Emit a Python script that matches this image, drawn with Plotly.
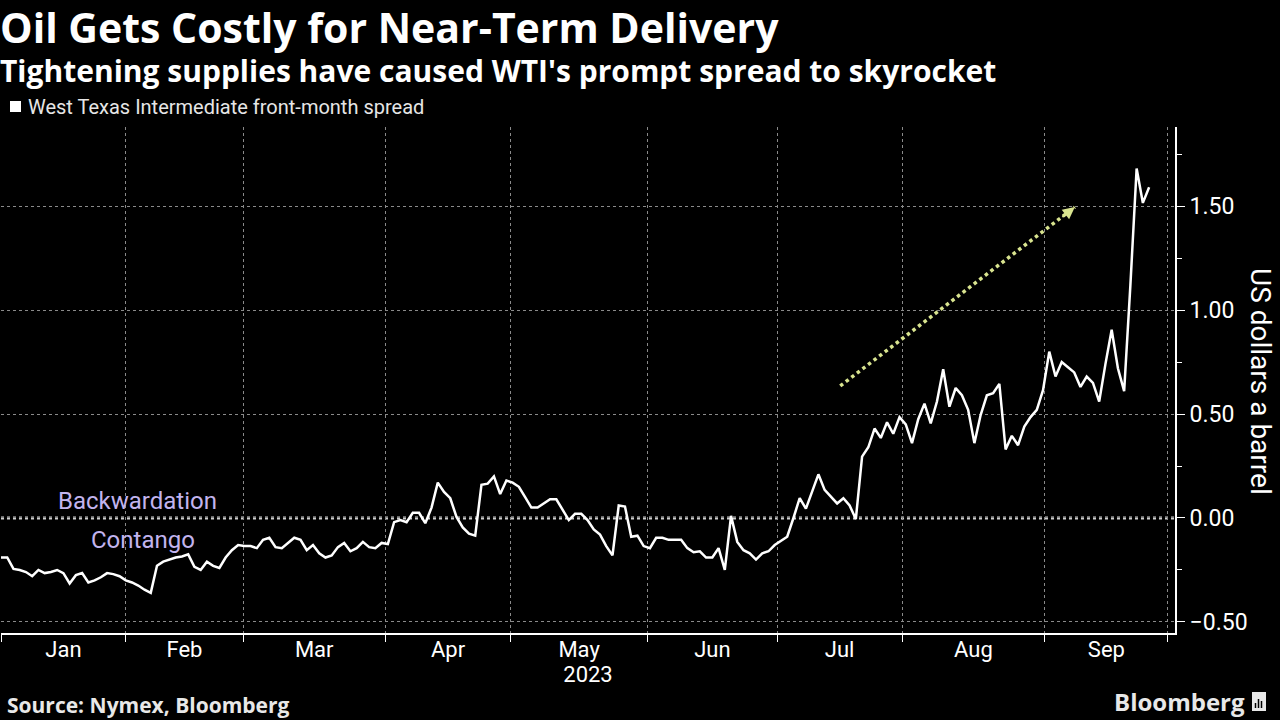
import plotly.graph_objects as go

# WTI front-month spread (US$/bbl), one value per trading day, Jan 3 2023 onward
spread = [
    -0.19, -0.19, -0.245, -0.25, -0.26, -0.28, -0.25, -0.265, -0.26, -0.25,
    -0.265, -0.315, -0.275, -0.265, -0.31, -0.30, -0.285, -0.265, -0.27, -0.28,
    -0.30, -0.31, -0.325, -0.345, -0.36, -0.23, -0.21, -0.20, -0.19, -0.185,
    -0.175, -0.235, -0.25, -0.21, -0.23, -0.24, -0.19, -0.155, -0.13, -0.135,
    -0.135, -0.145, -0.105, -0.095, -0.14, -0.145, -0.12, -0.095, -0.105, -0.155,
    -0.13, -0.17, -0.19, -0.18, -0.14, -0.12, -0.16, -0.145, -0.115, -0.14,
    -0.145, -0.12, -0.125, -0.02, -0.01, -0.02, 0.025, 0.025, -0.025, 0.05,
    0.17, 0.125, 0.095, 0.005, -0.045, -0.075, -0.085, 0.16, 0.165, 0.20,
    0.115, 0.18, 0.17, 0.15, 0.10, 0.05, 0.05, 0.07, 0.09, 0.09,
    0.04, -0.01, 0.02, 0.02, -0.01, -0.055, -0.08, -0.135, -0.18, 0.06,
    0.055, -0.09, -0.085, -0.135, -0.145, -0.095, -0.095, -0.105, -0.105, -0.105,
    -0.145, -0.165, -0.16, -0.19, -0.19, -0.145, -0.25, 0.01, -0.115, -0.155,
    -0.17, -0.20, -0.17, -0.16, -0.13, -0.11, -0.09, 0.0, 0.095, 0.045,
    0.13, 0.21, 0.135, 0.10, 0.07, 0.095, 0.06, -0.005, 0.295, 0.34,
    0.43, 0.385, 0.46, 0.405, 0.485, 0.45, 0.36, 0.475, 0.55, 0.455,
    0.56, 0.715, 0.535, 0.625, 0.59, 0.52, 0.36, 0.495, 0.59, 0.60,
    0.645, 0.33, 0.395, 0.35, 0.44, 0.485, 0.52, 0.615, 0.80, 0.68,
    0.75, 0.725, 0.70, 0.63, 0.68, 0.65, 0.56, 0.74, 0.905, 0.72,
    0.61, 1.12, 1.68, 1.515, 1.59,
]
days = list(range(len(spread)))

# month boundaries (trading-day index) and labels
month_bounds = [0, 20, 38.8, 61.6, 81.7, 103.6, 124.4, 144.4, 167.3, 187]
month_labels = ["Jan", "Feb", "Mar", "Apr", "May", "Jun", "Jul", "Aug", "Sep"]
month_mid = [(a + b) / 2 for a, b in zip(month_bounds[:-1], month_bounds[1:])]
year_label = "2023"

y_ticks = [-0.5, 0.0, 0.5, 1.0, 1.5]

# trend arrow endpoints (index, value)
arrow_start = (134.5, 0.635)
arrow_end = (172.1, 1.495)

FONT = "Roboto"
NARROW = "Liberation Sans Narrow, Roboto"
TITLE_FONT = "Open Sans"
ARROW_COL = "#d9e48f"
GRID_COL = "#8a8a8a"
LAV = "#c2b4ee"

W, H = 1280, 720
ML, MR, MT, MB = 1, 105, 127, 87
PW, PH = W - ML - MR, H - MT - MB


def px(x):  # page pixel -> paper x
    return (x - ML) / PW


def py(y):  # page pixel -> paper y
    return (H - MB - y) / PH


fig = go.Figure()

fig.add_trace(go.Scatter(
    x=days, y=spread, mode="lines",
    line=dict(color="white", width=2.5),
    showlegend=False, hoverinfo="skip",
))

# zero line (Backwardation / Contango divider)
fig.add_shape(type="line", xref="paper", yref="y", x0=0, x1=1, y0=0, y1=0,
              line=dict(color="#cfcfcf", width=3, dash="dot"), layer="below")

# dotted trend arrow
fig.add_shape(type="line", xref="x", yref="y",
              x0=arrow_start[0], y0=arrow_start[1], x1=arrow_end[0], y1=arrow_end[1],
              line=dict(color=ARROW_COL, width=3.5, dash="dot"))
fig.add_annotation(x=arrow_end[0], y=arrow_end[1], xref="x", yref="y",
                   ax=-14, ay=11, text="", showarrow=True,
                   arrowhead=2, arrowsize=1.2, arrowwidth=2, arrowcolor=ARROW_COL)

fig.add_annotation(x=21.9, y=0.082, xref="x", yref="y", text="Backwardation",
                   showarrow=False, font=dict(family=FONT, size=24, color=LAV))
fig.add_annotation(x=22.7, y=-0.106, xref="x", yref="y", text="Contango",
                   showarrow=False, font=dict(family=FONT, size=24, color=LAV))

# legend swatch + label
fig.add_shape(type="rect", xref="paper", yref="paper",
              x0=px(10), x1=px(21), y0=py(112), y1=py(101),
              fillcolor="white", line=dict(width=0))
fig.add_annotation(x=px(26), y=py(107), xref="paper", yref="paper",
                   xanchor="left", yanchor="middle", showarrow=False,
                   text="West Texas Intermediate front-month spread",
                   font=dict(family=FONT, size=20, color="#e6e6e6"))

# title + subtitle as one text block
fig.add_annotation(x=px(-2), y=py(-3), xref="paper", yref="paper",
                   xanchor="left", yanchor="top", showarrow=False, align="left",
                   text=("<span style='font-size:41px'><b>Oil Gets Costly for Near-Term Delivery</b></span>"
                         "<br><b>Tightening supplies have caused WTI's prompt spread to skyrocket</b>"),
                   font=dict(family=TITLE_FONT, size=30, color="white"))
fig.add_annotation(x=px(5), y=py(705), xref="paper", yref="paper",
                   xanchor="left", yanchor="middle", showarrow=False,
                   text="<b>Source: Nymex, Bloomberg</b>",
                   font=dict(family=TITLE_FONT, size=21, color="#e8e8e8"))
fig.add_annotation(x=px(1247), y=py(702), xref="paper", yref="paper",
                   xanchor="right", yanchor="middle", showarrow=False,
                   text="<b>Bloomberg</b>",
                   font=dict(family=TITLE_FONT, size=24, color="#e8e8e8"))
# small logo mark next to "Bloomberg"
fig.add_shape(type="rect", xref="paper", yref="paper",
              x0=px(1252), x1=px(1266), y0=py(711), y1=py(692),
              fillcolor="#e8e8e8", line=dict(width=0))
for bx, top in ((1255.5, 703), (1258.5, 699), (1261.5, 701)):
    fig.add_shape(type="line", xref="paper", yref="paper",
                  x0=px(bx), x1=px(bx), y0=py(708), y1=py(top),
                  line=dict(color="black", width=1.5))

# y axis title (reads top to bottom)
fig.add_annotation(x=px(1261), y=py(381), xref="paper", yref="paper", showarrow=False,
                   xanchor="center", yanchor="middle",
                   text="US dollars a barrel", textangle=90,
                   font=dict(family=FONT, size=28, color="white"))

fig.update_layout(
    width=W, height=H,
    paper_bgcolor="black", plot_bgcolor="black",
    margin=dict(l=ML, r=MR, t=MT, b=MB),
    showlegend=False,
    xaxis=dict(
        range=[0, 188.15],
        tickmode="array", tickvals=month_mid, ticktext=month_labels,
        ticks="", showgrid=False, zeroline=False,
        showline=True, linecolor="white", linewidth=2,
        ticklabelstandoff=-4,
        tickfont=dict(family=NARROW, size=22, color="white"),
        minor=dict(tickmode="array", tickvals=month_bounds, ticks="outside",
                   ticklen=7, tickcolor="white", tickwidth=1,
                   showgrid=True, gridcolor=GRID_COL, griddash="dot", gridwidth=1),
        title=dict(text=year_label, font=dict(family=NARROW, size=22, color="white"), standoff=2),
    ),
    yaxis=dict(
        side="right", range=[-0.553, 1.88],
        tickmode="array", tickvals=y_ticks, tickformat=".2f",
        ticks="outside", ticklen=8, tickcolor="white", tickwidth=1,
        showline=True, linecolor="white", linewidth=2,
        showgrid=True, gridcolor=GRID_COL, griddash="dot", gridwidth=1,
        zeroline=False,
        tickfont=dict(family=FONT, size=23, color="white"),
        minor=dict(dtick=0.25, tick0=0, ticks="outside", ticklen=5,
                   tickcolor="white", showgrid=False),
    ),
)

fig.write_html("out.html", config={"displayModeBar": False},
               post_script="document.body.style.margin='0px';document.body.style.background='black';")
